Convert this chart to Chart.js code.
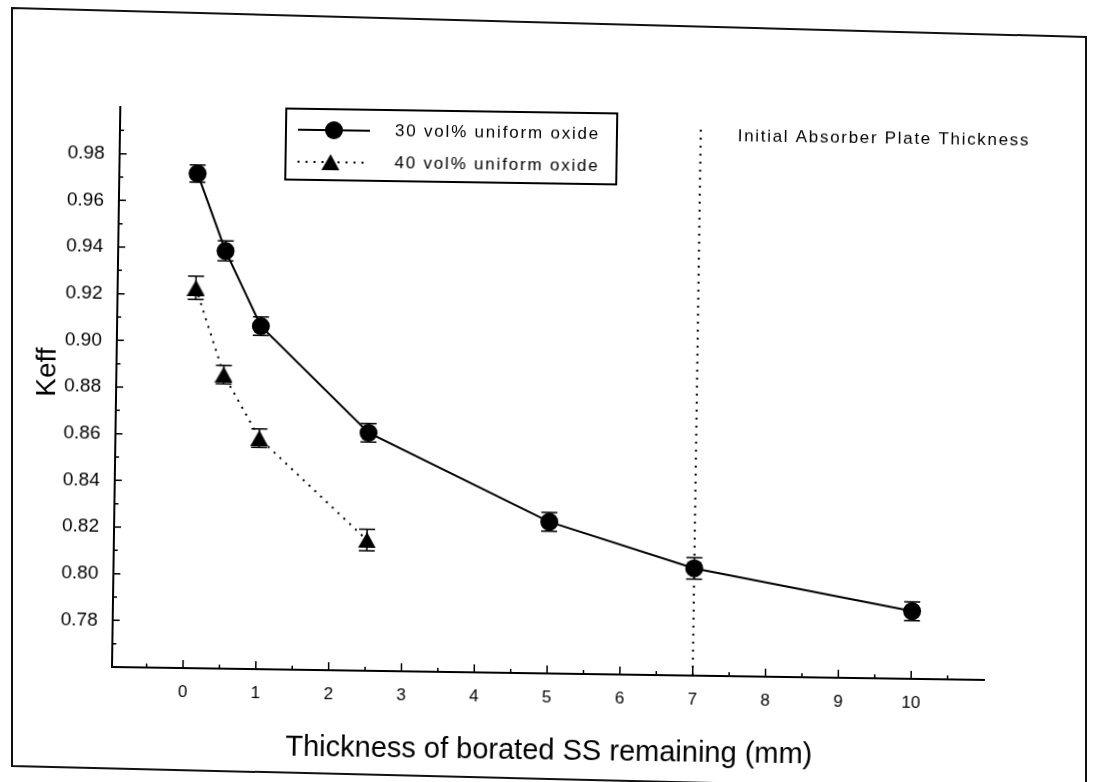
<!DOCTYPE html>
<html>
<head>
<meta charset="utf-8">
<script src="https://cdn.jsdelivr.net/npm/chart.js@4.4.0/dist/chart.umd.min.js"></script>
<style>
html,body{margin:0;padding:0;background:#fff;overflow:hidden;}
#wrap{position:relative;width:1093px;height:782px;}
#frame{position:absolute;left:0;top:0;}
/* the scanned figure sits slightly tilted */
#chart{position:absolute;left:0;top:0;transform:rotate(0.85deg);transform-origin:112px 667px;}
</style>
</head>
<body>
<div id="wrap">
<svg id="frame" width="1093" height="782"><polygon points="12,8 1086,37 1086,792 12,766" fill="none" stroke="#111" stroke-width="2"/></svg>
<canvas id="chart" width="1093" height="782"></canvas>
</div>
<script>
// ================= DATA =================
const thickness30 = [0.1, 0.5, 1, 2.5, 5, 7, 10];
const keff30      = [0.972, 0.939, 0.907, 0.862, 0.825, 0.806, 0.789];
const err30       = [0.0037, 0.0043, 0.004, 0.004, 0.004, 0.0046, 0.004];

const thickness40 = [0.1, 0.5, 1, 2.5];
const keff40      = [0.923, 0.886, 0.859, 0.816];
const err40       = [0.005, 0.004, 0.004, 0.0046];

const seriesNames = ["30 vol% uniform oxide", "40 vol% uniform oxide"];
const xTicks = [0, 1, 2, 3, 4, 5, 6, 7, 8, 9, 10];
const yTicks = [0.78, 0.80, 0.82, 0.84, 0.86, 0.88, 0.90, 0.92, 0.94, 0.96, 0.98];
const initialThickness = 7;
const markerLabel = "Initial Absorber Plate Thickness";
const xTitle = "Thickness of borated SS remaining (mm)";
const yTitle = "Keff";

const FONT = "'Liberation Sans', Arial, Helvetica, sans-serif";

// triangle marker centred on its box (like the original plot)
function triangleImg(w, h){
    const c = document.createElement("canvas");
    c.width = w; c.height = h;
    const g = c.getContext("2d");
    g.fillStyle = "#000";
    g.beginPath();
    g.moveTo(w/2, 0); g.lineTo(w, h); g.lineTo(0, h);
    g.closePath(); g.fill();
    return c;
}
const tri = triangleImg(18, 16);

// ================= PLUGIN =================
const decor = {
    id: "decor",
    beforeDatasetsDraw(chart){
        const {ctx, scales:{x, y}} = chart;
        ctx.save();
        ctx.strokeStyle = "#000";
        ctx.lineWidth = 1.5;
        [[thickness30, keff30, err30], [thickness40, keff40, err40]].forEach(([xs, ys, es]) => {
            xs.forEach((v, i) => {
                const px = x.getPixelForValue(v);
                const t = y.getPixelForValue(ys[i] + es[i]);
                const b = y.getPixelForValue(ys[i] - es[i]);
                ctx.beginPath();
                ctx.moveTo(px, t); ctx.lineTo(px, b);
                ctx.moveTo(px - 8, t); ctx.lineTo(px + 8, t);
                ctx.moveTo(px - 8, b); ctx.lineTo(px + 8, b);
                ctx.stroke();
            });
        });
        ctx.restore();
    },
    afterDraw(chart){
        const {ctx, chartArea:a, scales:{x, y}} = chart;
        ctx.save();
        ctx.strokeStyle = "#000";
        ctx.fillStyle = "#000";
        ctx.lineWidth = 1.5;

        // inward ticks
        ctx.beginPath();
        for(let v = -0.5; v <= 10.5; v += 0.5){
            const px = x.getPixelForValue(v);
            const len = Number.isInteger(v) ? 8 : 4;
            ctx.moveTo(px, a.bottom); ctx.lineTo(px, a.bottom - len);
        }
        for(let k = 77; k <= 99; k++){
            const py = y.getPixelForValue(k/100);
            const len = k % 2 === 0 ? 7 : 4;
            ctx.moveTo(a.left, py); ctx.lineTo(a.left + len, py);
        }
        ctx.stroke();

        // axis titles
        ctx.textAlign = "center";
        ctx.textBaseline = "middle";
        ctx.font = "29px " + FONT;
        ctx.fillText(xTitle, (a.left + a.right)/2 + 2, 745);
        ctx.font = "28px " + FONT;
        ctx.save();
        ctx.translate(43, 373);
        ctx.rotate(-Math.PI/2);
        ctx.fillText(yTitle, 0, 0);
        ctx.restore();

        // annotation text
        ctx.textAlign = "left";
        ctx.font = "17px " + FONT;
        ctx.letterSpacing = "1.7px";
        ctx.fillText(markerLabel, x.getPixelForValue(initialThickness) + 37, y.getPixelForValue(0.9915));

        // legend
        const L = 278, T = 106, R = 609, B = 177;
        ctx.lineWidth = 2;
        ctx.strokeRect(L, T, R - L, B - T);
        const rows = [127, 159];
        ctx.beginPath();
        ctx.moveTo(290, rows[0]); ctx.lineTo(362, rows[0]);
        ctx.stroke();
        ctx.beginPath();
        ctx.arc(326, rows[0], 9, 0, Math.PI*2);
        ctx.fill();
        ctx.setLineDash([2, 6]);
        ctx.beginPath();
        ctx.moveTo(290, rows[1]); ctx.lineTo(362, rows[1]);
        ctx.stroke();
        ctx.setLineDash([]);
        ctx.drawImage(tri, 323 - tri.width/2, rows[1] - tri.height/2);
        ctx.font = "17px " + FONT;
        ctx.letterSpacing = "1.8px";
        ctx.fillText(seriesNames[0], 387, rows[0]);
        ctx.fillText(seriesNames[1], 387, rows[1]);
        ctx.restore();
    }
};

// ================= CHART =================
const ctx = document.getElementById("chart").getContext("2d");
new Chart(ctx, {
    type: "scatter",
    data: {
        datasets: [
            {
                label: "initial",
                data: [{x: initialThickness, y: 0.76}, {x: initialThickness, y: 0.994}],
                showLine: true, borderColor: "#000", borderWidth: 2, borderDash: [2, 6],
                pointRadius: 0, order: 3
            },
            {
                label: seriesNames[0],
                data: thickness30.map((v, i) => ({x: v, y: keff30[i]})),
                showLine: true, borderColor: "#000", borderWidth: 2, tension: 0,
                pointStyle: "circle", pointRadius: 9, pointBorderWidth: 0,
                pointBackgroundColor: "#000", order: 1
            },
            {
                label: seriesNames[1],
                data: thickness40.map((v, i) => ({x: v, y: keff40[i]})),
                showLine: true, borderColor: "#000", borderWidth: 2, borderDash: [2, 6], tension: 0,
                pointStyle: tri, pointRadius: 9, order: 2
            }
        ]
    },
    options: {
        responsive: false,
        animation: false,
        devicePixelRatio: 1,
        layout: {padding: {left: 0, top: 107, right: 109, bottom: 0}},
        plugins: {legend: {display: false}, tooltip: {enabled: false}},
        scales: {
            x: {
                type: "linear", min: -0.975, max: 11,
                grid: {display: false, drawTicks: false},
                border: {display: true, color: "#000", width: 2},
                ticks: {
                    padding: 14, color: "#000", font: {size: 17, family: FONT},
                    maxRotation: 0, autoSkip: false,
                    callback: v => String(v)
                },
                afterBuildTicks: s => { s.ticks = xTicks.map(v => ({value: v})); },
                afterFit: s => { s.height = 115; }
            },
            y: {
                type: "linear", min: 0.76, max: 1.0,
                grid: {display: false, drawTicks: false},
                border: {display: true, color: "#000", width: 2},
                ticks: {
                    padding: 15, color: "#000", font: {size: 19, family: FONT},
                    autoSkip: false,
                    callback: v => Number(v).toFixed(2)
                },
                afterBuildTicks: s => { s.ticks = yTicks.map(v => ({value: v})); },
                afterFit: s => { s.width = 112; }
            }
        }
    },
    plugins: [decor]
});
</script>
</body>
</html>
